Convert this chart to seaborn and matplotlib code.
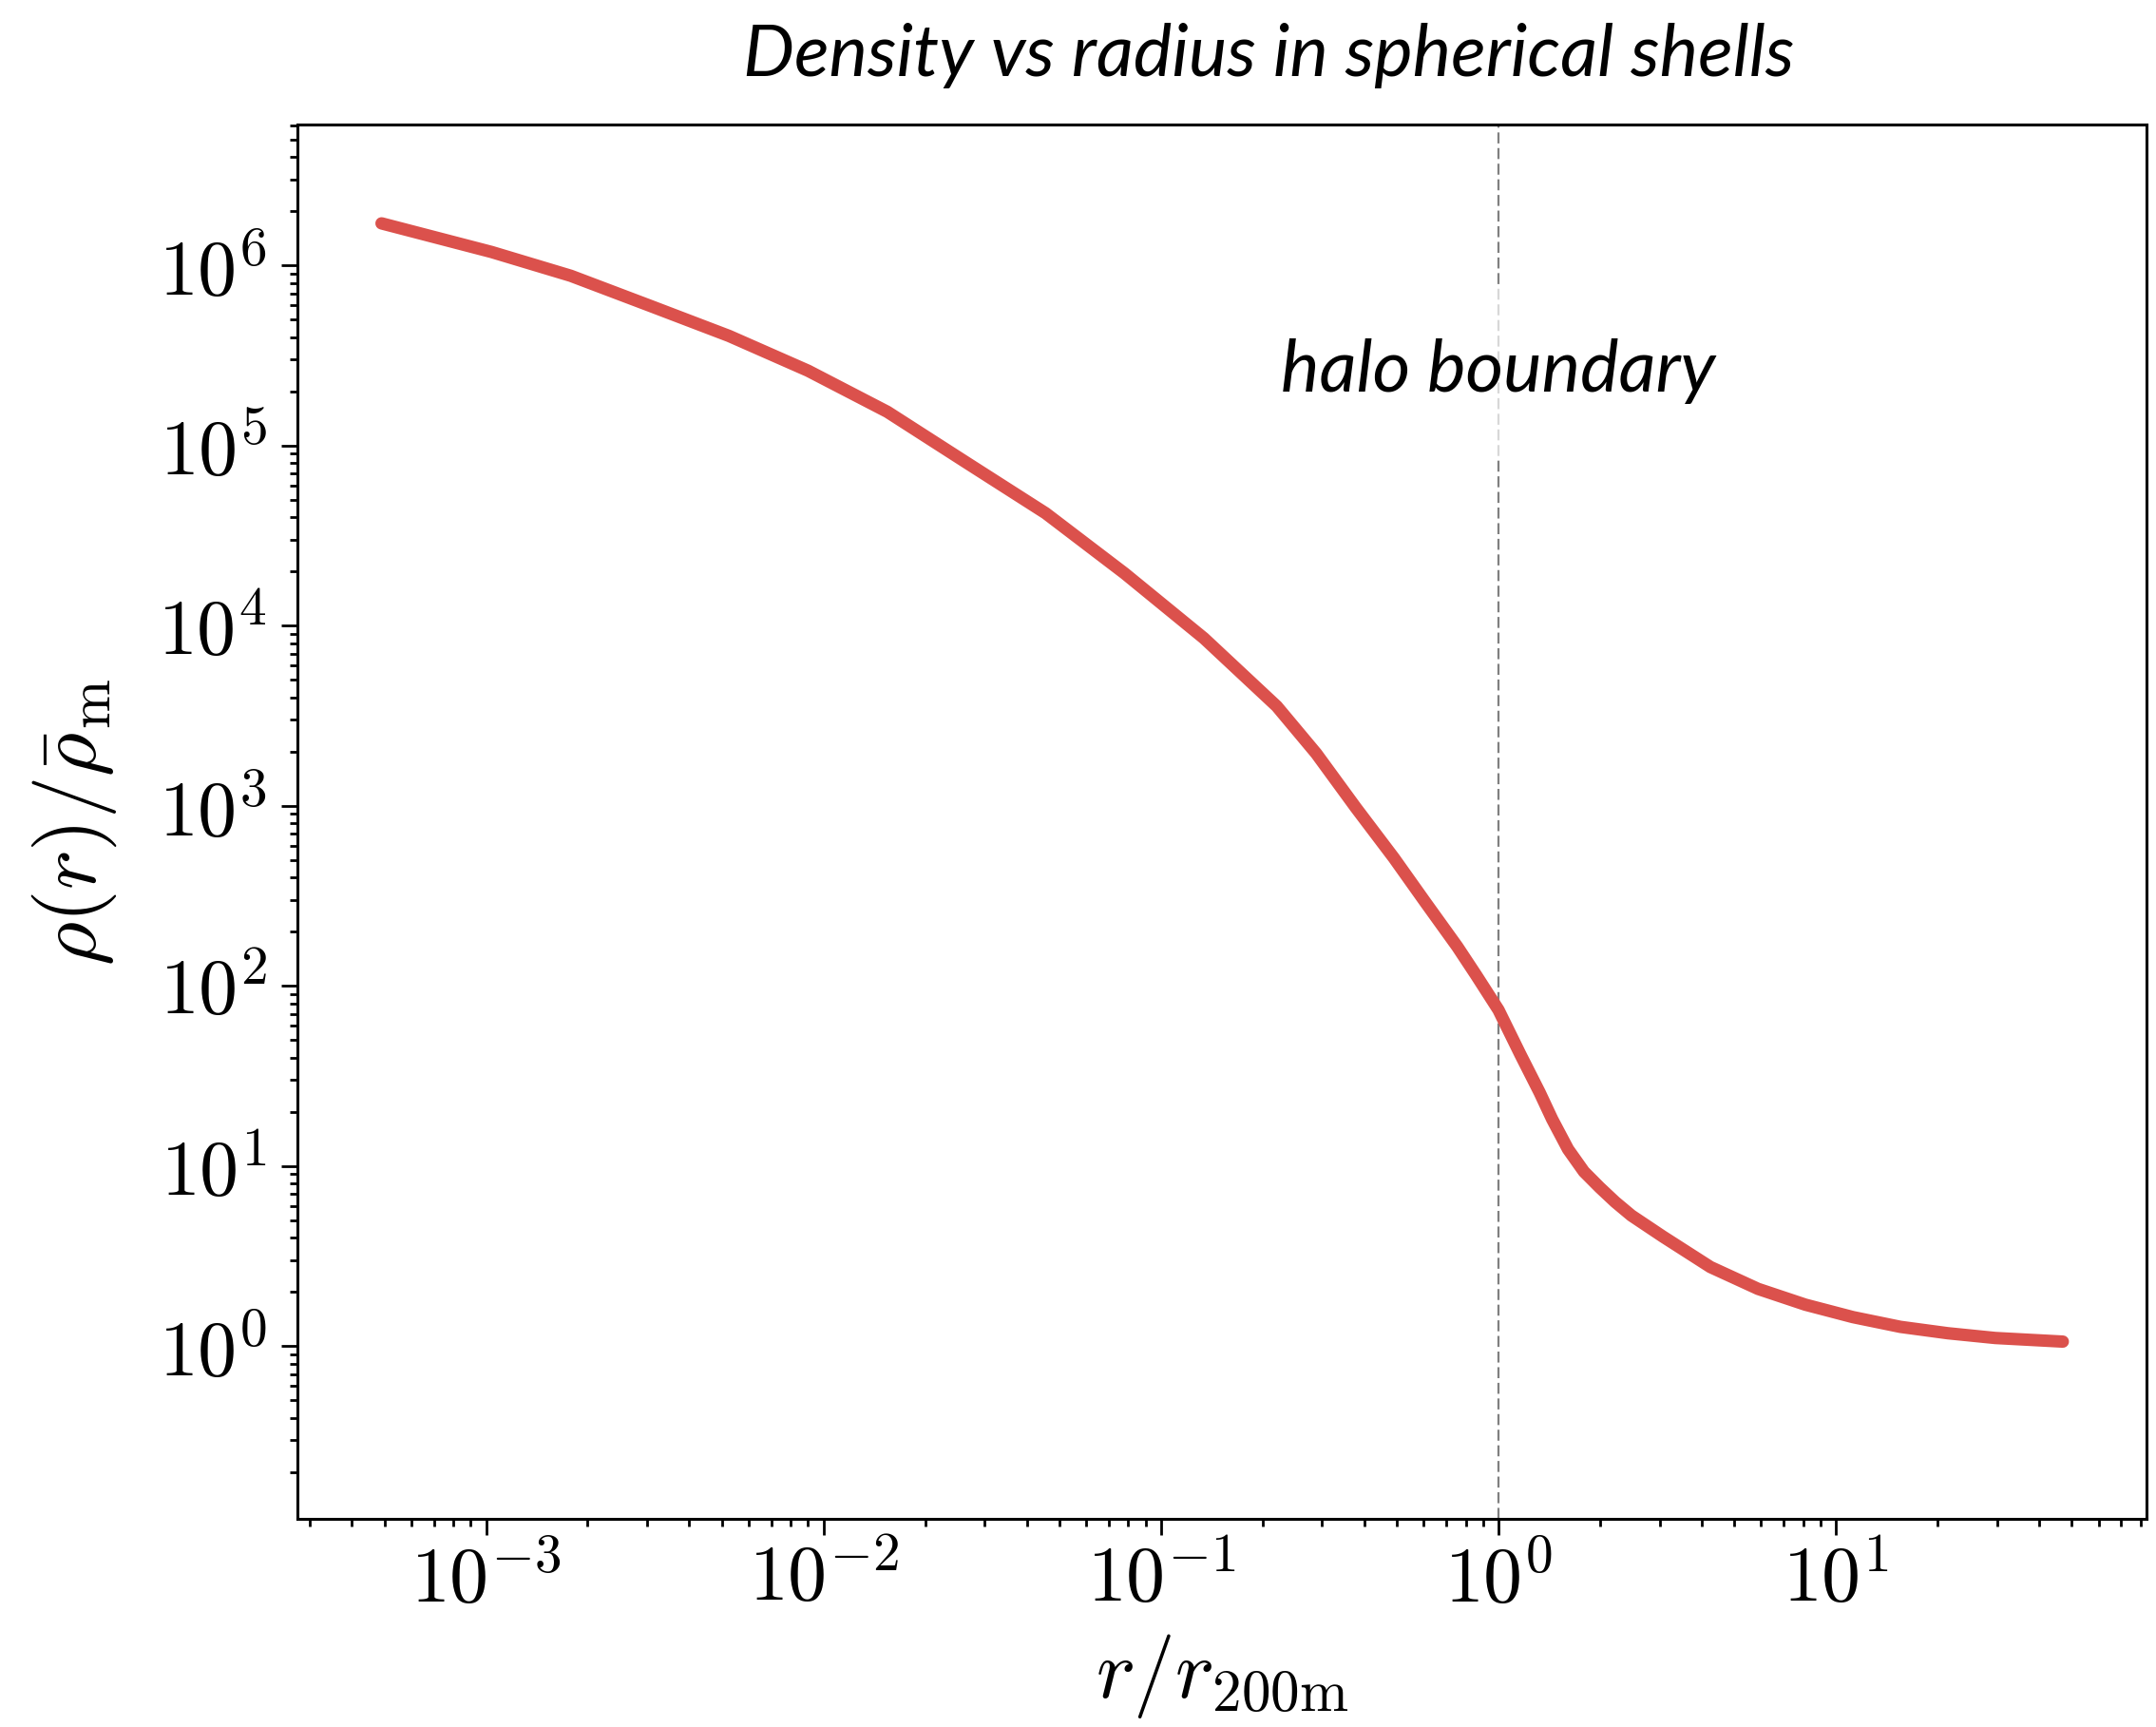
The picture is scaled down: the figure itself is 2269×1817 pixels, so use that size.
import numpy as np
import pandas as pd
import matplotlib
matplotlib.use("Agg")
import matplotlib.pyplot as plt
from matplotlib.ticker import LogLocator, FuncFormatter, NullFormatter
import seaborn as sns

# ---- data ----
r_over_r200m = [4.9e-4, 1.038e-3, 1.782e-3, 3.055e-3, 5.248e-3, 8.995e-3,
                1.545e-2, 2.649e-2, 4.550e-2, 7.798e-2, 0.1340, 0.2203,
                0.2884, 0.3776, 0.4898, 0.6081, 0.7551, 0.8590, 1.0,
                1.161, 1.324, 1.442, 1.607, 1.791, 1.995, 2.218, 2.477,
                3.069, 4.246, 5.875, 8.110, 11.22, 15.52, 21.43, 29.65, 47.0]
rho_over_mean = [1.71e6, 1.186e6, 8.75e5, 5.97e5, 4.055e5, 2.600e5,
                 1.538e5, 8.04e4, 4.207e4, 1.950e4, 8511, 3565,
                 1950, 977, 513, 290, 165, 114.5, 73.5,
                 41.6, 25.6, 18.2, 12.4, 9.31, 7.60, 6.31, 5.31,
                 4.06, 2.75, 2.08, 1.70, 1.45, 1.28, 1.18, 1.11, 1.06]
boundary_x = 1.0
title_text = "Density vs radius in spherical shells"
annot_text = "halo boundary"
x_label = r"$r/r_{\rm 200m}$"
y_label = r"$\rho(r)/\bar{\rho}_{\rm m}$"

sns.set_theme(style="ticks")
plt.rcParams["mathtext.fontset"] = "cm"
plt.rcParams["font.family"] = ["Lato", "DejaVu Sans"]
for k in ("text.color", "axes.labelcolor", "xtick.color", "ytick.color",
          "axes.edgecolor"):
    plt.rcParams[k] = "black"

W, H = 2269, 1817
fig = plt.figure(figsize=(W / 100, H / 100), dpi=100)
L, T, R, B = 313, 131, 2259, 1598
ax = fig.add_axes([L / W, 1 - B / H, (R - L) / W, (B - T) / H])

df = pd.DataFrame({"r": r_over_r200m, "rho": rho_over_mean})
sns.lineplot(data=df, x="r", y="rho", color="#db514c", lw=9.4, ax=ax,
             solid_joinstyle="round")
ax.set_xscale("log")
ax.set_yscale("log")
ax.set_xlim(2.76e-4, 83.2)
ax.set_ylim(0.11, 6.05e6)

ax.axvline(boundary_x, color="#808080", lw=1.6, dashes=(5.2, 2.2), zorder=1)
ax.text(boundary_x, 2.0e5, annot_text, ha="center", va="baseline",
        fontsize=55, fontstyle="italic", family=["Lato", "DejaVu Sans"],
        color="black",
        bbox=dict(facecolor="white", edgecolor="none", alpha=0.7, pad=40),
        zorder=3)

fmt = FuncFormatter(lambda v, p: r"$10^{%d}$" % int(round(np.log10(v))))
for axis in (ax.xaxis, ax.yaxis):
    axis.set_major_locator(LogLocator(base=10, numticks=20))
    axis.set_minor_locator(LogLocator(base=10, subs=np.arange(2, 10), numticks=20))
    axis.set_major_formatter(fmt)
    axis.set_minor_formatter(NullFormatter())

ax.tick_params(which="major", length=12, width=2.0, labelsize=59,
               direction="out", color="black", labelcolor="black")
ax.tick_params(which="minor", length=6, width=2.0, direction="out", color="black")
ax.tick_params(axis="x", which="major", pad=6)
ax.tick_params(axis="y", which="major", pad=11)
for s in ax.spines.values():
    s.set_linewidth(2.2)
    s.set_color("black")
    s.set_visible(True)

ax.set_xlabel(x_label, fontsize=63, labelpad=12, color="black")
ax.set_ylabel(y_label, fontsize=64, labelpad=30, color="black")

fig.text(1335 / W, 1 - 80 / H, title_text, ha="center", va="baseline",
         fontsize=55, fontstyle="italic", family=["Lato", "DejaVu Sans"],
         color="black")

fig.savefig("out.png", dpi=100, facecolor="white")
